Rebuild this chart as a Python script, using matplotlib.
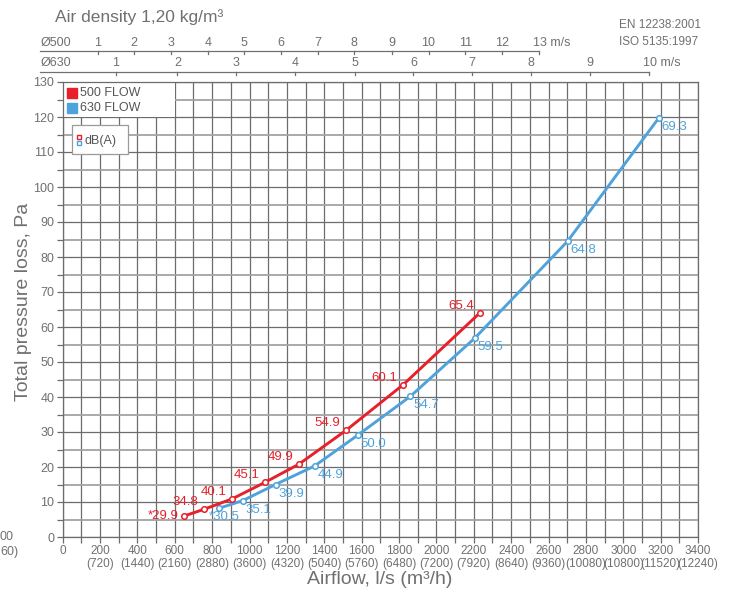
import matplotlib
matplotlib.use('Agg')
import matplotlib.pyplot as plt
from matplotlib.transforms import blended_transform_factory
from matplotlib.patches import Rectangle

plt.rcParams['font.family'] = ['Liberation Sans', 'DejaVu Sans']

# 500 FLOW: airflow l/s, pressure Pa, dB(A)
flow_500 = [650, 755, 907, 1082, 1264, 1517, 1822, 2232]
pa_500 = [6.0, 7.9, 10.9, 15.6, 20.8, 30.5, 43.5, 64.0]
db_500 = ['*29.9', '34.8', '40.1', '45.1', '49.9', '54.9', '60.1', '65.4']

# 630 FLOW
flow_630 = [836, 964, 1139, 1348, 1579, 1861, 2205, 2702, 3191]
pa_630 = [8.2, 10.4, 15.0, 20.3, 29.1, 40.2, 56.8, 84.5, 119.8]
db_630 = ['*30.5', '35.1', '39.9', '44.9', '50.0', '54.7', '59.5', '64.8', '69.3']

# velocity scales (m/s) and their airflow positions (l/s)
vel_500 = [1, 2, 3, 4, 5, 6, 7, 8, 9, 10, 11, 12, 13]
pos_500 = [187, 383, 580, 776, 972, 1168, 1365, 1561, 1761, 1958, 2154, 2353, 2550]
vel_630 = [1, 2, 3, 4, 5, 6, 7, 8, 9, 10]
pos_630 = [284, 614, 930, 1244, 1562, 1877, 2192, 2506, 2823, 3139]

x_ticks = list(range(0, 3401, 200))
x_labels = ['0'] + ['%d\n(%d)' % (v, v * 3.6) for v in x_ticks[1:]]
y_ticks = list(range(0, 131, 10))

RED = '#e8202a'
BLUE = '#4fa3dc'
GREY = '#707070'
GRID_D = '#6c6c6c'
GRID_L = '#a2a2a2'

fig = plt.figure(figsize=(7.34, 5.91), dpi=100)
ax = fig.add_axes([62.7 / 734, 54 / 591, 635.3 / 734, 455 / 591])
ax.set_xlim(0, 3400)
ax.set_ylim(0, 130)

ax.set_xticks(x_ticks)
ax.set_xticklabels(x_labels, fontsize=8.5, color=GREY, linespacing=1.05)
ax.set_xticks(range(0, 3401, 100), minor=True)
ax.set_yticks(y_ticks)
ax.set_yticklabels([str(v) for v in y_ticks], fontsize=9, color=GREY)
ax.set_yticks(range(0, 131, 5), minor=True)
ax.tick_params(which='both', color=GRID_D, length=4, width=0.9, pad=2)
ax.grid(which='major', color=GRID_D, lw=0.9)
ax.grid(which='minor', color=GRID_L, lw=1.3)
ax.grid(which='minor', axis='x', color=GRID_D, lw=0.9)
for s in ax.spines.values():
    s.set_color(GRID_D)
    s.set_linewidth(0.9)
ax.set_axisbelow(True)

# curves
ax.plot(flow_500, pa_500, color=RED, lw=2.1, marker='o', ms=4, mfc='white', mec=RED, mew=1.1, zorder=4)
ax.plot(flow_630, pa_630, color=BLUE, lw=2.1, marker='o', ms=4, mfc='white', mec=BLUE, mew=1.1, zorder=3)

for i, (x, y, t) in enumerate(zip(flow_500, pa_500, db_500)):
    off = (-4, 0) if i == 0 else (-4, 5)
    ax.annotate(t, (x, y), xytext=off, textcoords='offset points', ha='right', va='center',
                fontsize=9.5, color=RED, zorder=5)
for i, (x, y, t) in enumerate(zip(flow_630, pa_630, db_630)):
    off = (-7, -6) if i == 0 else (2, -6.5)
    ax.annotate(t, (x, y), xytext=off, textcoords='offset points', ha='left', va='center',
                fontsize=9.5, color=BLUE, zorder=5)

# legend boxes
ax.add_patch(Rectangle((0, 120), 600, 10, fc='white', ec='none', zorder=2.5))
ax.plot([48], [127.0], marker='s', ms=7, color=RED, ls='none', zorder=6)
ax.plot([48], [122.7], marker='s', ms=7, color=BLUE, ls='none', zorder=6)
ax.text(93, 127.0, '500 FLOW', fontsize=9, color='#555555', va='center', zorder=6)
ax.text(93, 122.7, '630 FLOW', fontsize=9, color='#555555', va='center', zorder=6)

ax.add_patch(Rectangle((50, 109.4), 300, 8.3, fc='white', ec='#9a9a9a', lw=0.9, zorder=6))
ax.plot([87], [114.4], marker='s', ms=3.5, mfc='white', mec=RED, mew=1, ls='none', zorder=7)
ax.plot([87], [112.7], marker='s', ms=3.5, mfc='white', mec=BLUE, mew=1, ls='none', zorder=7)
ax.text(119, 113.1, 'dB(A)', fontsize=9, color='#555555', va='center', zorder=7)

# velocity scales above the plot
tr = blended_transform_factory(ax.transData, ax.transAxes)
for name, vel, pos, yl, yt in [('Ø500', vel_500, pos_500, 1.0688, 1.0857),
                               ('Ø630', vel_630, pos_630, 1.0220, 1.0418)]:
    ax.plot([-121, pos[-1]], [yl, yl], transform=tr, color=GREY, lw=0.9, clip_on=False)
    ax.text(-121, yt, name, transform=tr, fontsize=9, color=GREY, ha='left', va='center')
    for v, p in zip(vel, pos):
        ax.plot([p, p], [yl, yl - 0.0066], transform=tr, color=GREY, lw=0.9, clip_on=False)
        if v == vel[-1]:
            ax.text(p - 32, yt, '%d m/s' % v, transform=tr, fontsize=9, color=GREY,
                    ha='left', va='center')
        else:
            ax.text(p, yt, str(v), transform=tr, fontsize=9, color=GREY, ha='center', va='center')

fig.text(55 / 734, 1 - 17 / 591, 'Air density 1,20 kg/m³', fontsize=12.5, color=GREY, va='center')
fig.text(619 / 734, 1 - 25 / 591, 'EN 12238:2001', fontsize=8.5, color=GREY, va='center')
fig.text(619 / 734, 1 - 42 / 591, 'ISO 5135:1997', fontsize=8.5, color=GREY, va='center')
fig.text(380 / 734, 1 - 580 / 591, 'Airflow, l/s (m³/h)', fontsize=14, color=GREY,
         ha='center', va='center')
fig.text(24 / 734, 1 - 302 / 591, 'Total pressure loss, Pa', fontsize=14, color=GREY,
         rotation=90, ha='center', va='center')

# stray clipped labels at the left edge
fig.text(0, 1 - 537 / 591, '00', fontsize=9, color=GREY, ha='left', va='center')
fig.text(0, 1 - 552 / 591, '60)', fontsize=9, color=GREY, ha='left', va='center')

fig.savefig('out.png', dpi=100)
